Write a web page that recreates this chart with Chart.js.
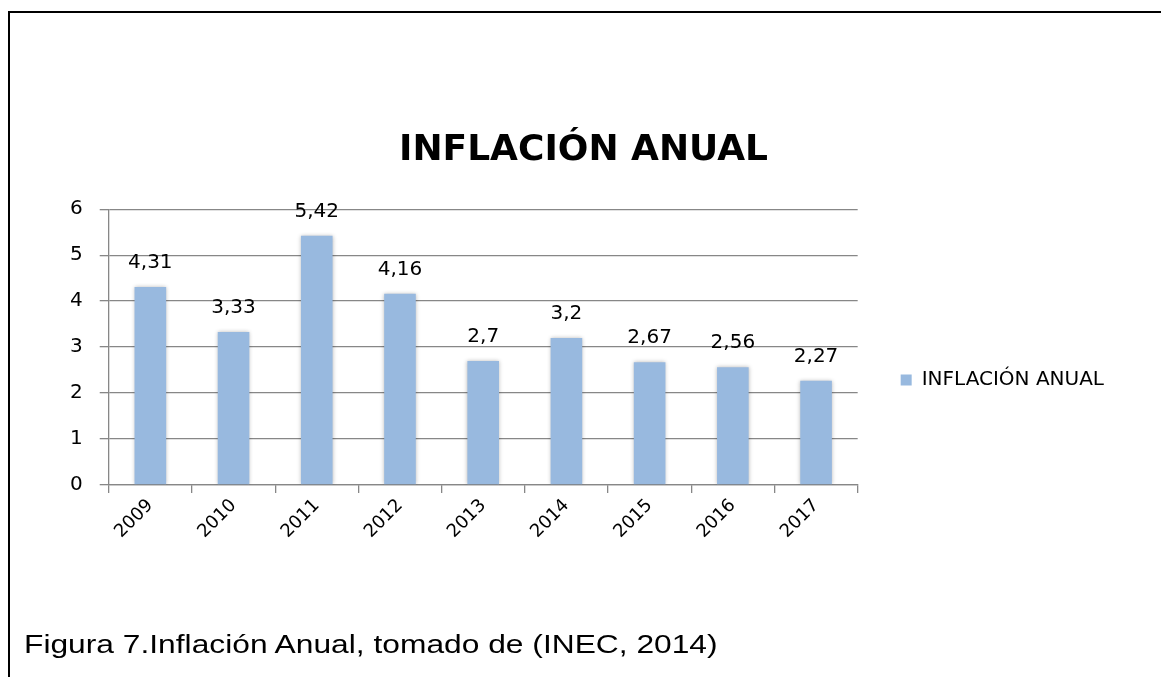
<!DOCTYPE html>
<html><head><meta charset="utf-8">
<script src="https://cdn.jsdelivr.net/npm/chart.js@4.4.1/dist/chart.umd.min.js"></script>
<style>
html,body{margin:0;padding:0;background:#fff;overflow:hidden;width:1161px;height:677px;}
#frame{position:absolute;left:8px;top:11px;width:1200px;height:700px;border-top:2px solid #000;border-left:2px solid #000;}
#wrap{position:absolute;left:0;top:98px;width:1161px;height:564px;}
#caption{position:absolute;left:24px;top:632px;font:25px/25px "Liberation Sans",Arial,sans-serif;color:#000;transform:scaleX(1.27);transform-origin:0 0;white-space:nowrap;z-index:2;}
</style></head>
<body>
<div id="frame"></div>
<div id="wrap"><canvas id="c"></canvas></div>
<div id="caption">Figura 7.Inflación Anual, tomado de (INEC, 2014)</div>
<script>
const chartTitle = 'INFLACIÓN ANUAL';
const seriesName = 'INFLACIÓN ANUAL';
const categories = ['2009', '2010', '2011', '2012', '2013', '2014', '2015', '2016', '2017'];
const inflationValues = [4.31, 3.33, 5.42, 4.16, 2.7, 3.2, 2.67, 2.56, 2.27];
const yMin = 0;
const yMax = 6;
const yStep = 1;

const FONT = '"DejaVu Sans", Verdana, sans-serif';
const GRID = '#878787';

const barShadowAndLabels = {
  id: 'barShadowAndLabels',
  beforeDatasetsDraw(chart) {
    const ctx = chart.ctx;
    ctx.save();
    ctx.shadowColor = 'rgba(0,0,0,0.28)';
    ctx.shadowBlur = 4;
  },
  afterDatasetsDraw(chart) {
    const ctx = chart.ctx;
    ctx.restore();
    ctx.save();
    ctx.font = '20px ' + FONT;
    ctx.fillStyle = '#000';
    ctx.textAlign = 'center';
    ctx.textBaseline = 'alphabetic';
    const meta = chart.getDatasetMeta(0);
    meta.data.forEach((bar, i) => {
      const v = chart.data.datasets[0].data[i];
      ctx.fillText(String(v).replace('.', ','), bar.x, bar.y - 19);
    });
    ctx.restore();
  }
};

Chart.defaults.color = '#000';
Chart.defaults.font.family = FONT;

new Chart(document.getElementById('c'), {
  type: 'bar',
  data: {
    labels: categories,
    datasets: [{
      label: seriesName,
      data: inflationValues,
      backgroundColor: '#98B9DF',
      borderWidth: 0,
      barPercentage: 0.38,
      categoryPercentage: 1.0
    }]
  },
  options: {
    responsive: true,
    maintainAspectRatio: false,
    animation: false,
    layout: { padding: { top: 0, left: 53, right: 47, bottom: 0 } },
    plugins: {
      title: {
        display: true,
        text: chartTitle,
        color: '#000',
        font: { family: FONT, size: 36, weight: 'bold', lineHeight: 1.2 },
        padding: { top: 31, bottom: 37 }
      },
      legend: {
        position: 'right',
        align: 'center',
        labels: {
          boxWidth: 11,
          boxHeight: 11,
          padding: 43,
          color: '#000',
          font: { family: FONT, size: 20 }
        }
      },
      tooltip: { enabled: false }
    },
    scales: {
      x: {
        offset: true,
        grid: { offset: true, drawOnChartArea: false, tickLength: 8, color: GRID, lineWidth: 1.3 },
        border: { color: GRID, width: 1.3 },
        ticks: { minRotation: 45, maxRotation: 45, padding: 2, font: { family: FONT, size: 18 }, color: '#000' },
        afterFit: (scale) => { scale.height = 177; }
      },
      y: {
        min: yMin,
        max: yMax,
        ticks: { stepSize: yStep, padding: 17, font: { family: FONT, size: 20 }, color: '#000' },
        grid: { tickLength: 9, color: GRID, lineWidth: 1.3 },
        border: { color: GRID, width: 1.3 }
      }
    }
  },
  plugins: [barShadowAndLabels]
});
</script>
</body></html>
